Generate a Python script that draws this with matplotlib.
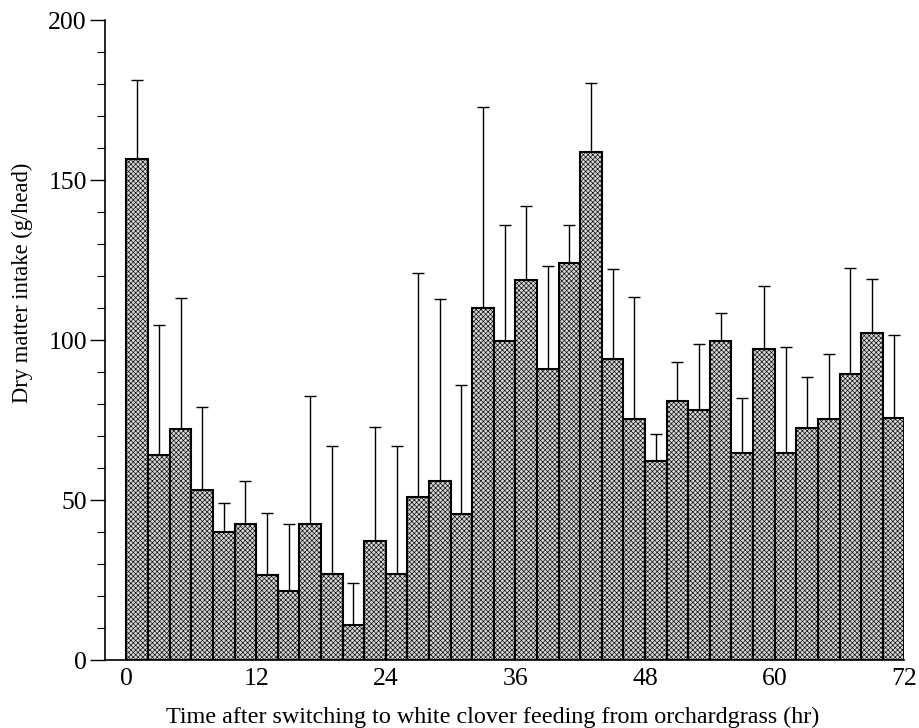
import numpy as np
import matplotlib
matplotlib.use('Agg')
import matplotlib.pyplot as plt

plt.rcParams['font.family'] = ['Liberation Serif', 'DejaVu Serif']
plt.rcParams['hatch.color'] = '#858585'
plt.rcParams['hatch.linewidth'] = 0.45

# 2-hour intervals after switching feed
hours = np.arange(0, 72, 2)
intake = [156.5, 64.1, 72.1, 53.1, 40.1, 42.5, 26.6, 21.7, 42.5, 26.8, 10.9, 37.3,
          26.8, 51.0, 56.1, 45.6, 110.1, 99.7, 118.8, 91.1, 124.0, 158.9, 94.1, 75.3,
          62.2, 81.0, 78.1, 99.8, 64.6, 97.1, 64.6, 72.5, 75.4, 89.4, 102.3, 75.5]
sd = [24.8, 40.6, 41.1, 25.9, 9.1, 13.5, 19.2, 20.7, 40.0, 40.2, 13.1, 35.6,
      40.2, 70.0, 56.7, 40.5, 62.7, 36.2, 23.0, 32.1, 11.9, 21.3, 28.2, 38.2,
      8.5, 12.0, 20.6, 8.5, 17.2, 19.9, 33.1, 16.1, 20.1, 33.0, 16.7, 26.2]

fig = plt.figure(figsize=(9.2, 7.28), dpi=100)
ax = fig.add_axes([0.114, 0.0934, 0.869, 0.879])

ax.errorbar(hours + 1, intake, yerr=[np.zeros(len(sd)), sd], fmt='none',
            ecolor='black', elinewidth=1.0, capsize=4, capthick=1.0, zorder=1)
ax.bar(hours, intake, width=2, align='edge', color='#d6d6d6', edgecolor='black',
       linewidth=1.5, hatch='xxxxxxx', zorder=2)

ax.set_xlim(-2, 72)
ax.set_ylim(0, 200)
ax.set_xticks([0, 12, 24, 36, 48, 60, 72])
ax.set_yticks([0, 50, 100, 150, 200])
ax.set_yticks(np.arange(0, 201, 10), minor=True)
ax.tick_params(axis='x', length=0, labelsize=18.5, pad=6)
ax.tick_params(axis='y', which='major', length=11, width=1.0, labelsize=18.5, pad=2)
ax.tick_params(axis='y', which='minor', length=6, width=0.8)

ax.spines['top'].set_visible(False)
ax.spines['right'].set_visible(False)
ax.spines['left'].set_linewidth(1.2)
ax.spines['bottom'].set_linewidth(1.2)

fig.text(0.5353, 0.0069, 'Time after switching to white clover feeding from orchardgrass (hr)',
         fontsize=17.4, ha='center', va='baseline')
ax.set_ylabel('Dry matter intake (g/head)', fontsize=16.3)
ax.yaxis.set_label_coords(-0.090, 0.589)

plt.savefig('out.png', dpi=100)
